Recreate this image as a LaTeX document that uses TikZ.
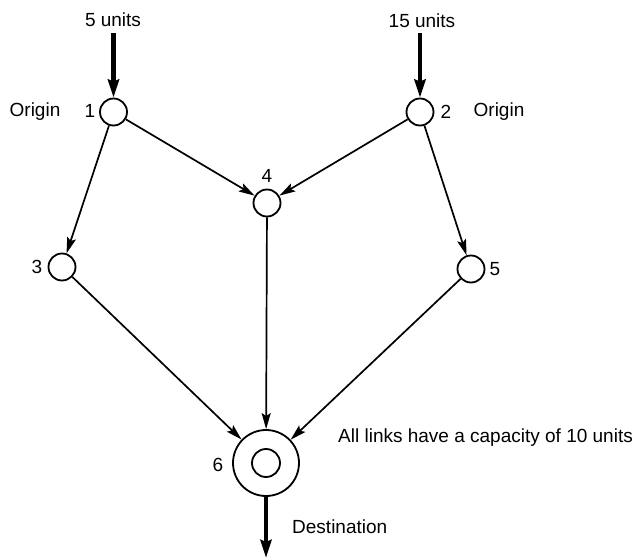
\documentclass[tikz,border=0pt]{standalone}
\usepackage{fontspec}
\setmainfont{Liberation Sans}
\usetikzlibrary{arrows.meta}
\begin{document}
\begin{tikzpicture}[x=1pt,y=-1pt,
  lbl/.style={inner sep=0pt,font=\fontsize{19}{21}\selectfont},
  vertex/.style={draw,circle,line width=1.8pt,minimum size=27pt,inner sep=0pt},
  link/.style={line width=1.7pt,-{Stealth[length=16pt,width=9pt,inset=3pt]}},
  feed/.style={line width=4.2pt,-{Stealth[length=18pt,width=11pt,inset=2pt]}}]
\useasboundingbox (0,0) rectangle (638,559);

% network nodes
\node[vertex] (n1) at (113.5,112) {};
\node[vertex] (n2) at (420,112) {};
\node[vertex] (n4) at (267,203) {};
\node[vertex] (n3) at (62,267) {};
\node[vertex] (n5) at (471,269) {};
\node[vertex,minimum size=66pt] (n6) at (266,463) {};
\node[vertex,minimum size=28pt] (n6in) at (266,463) {};

% node labels and notes
\node[lbl] (t5u) at (113,20) {5 units};
\node[lbl] (t15u) at (422,21) {15 units};
\node[lbl] (to1) at (35,112) {Origin};
\node[lbl] (t1) at (90,111) {1};
\node[lbl] (t2) at (446,112) {2};
\node[lbl] (to2) at (499,112) {Origin};
\node[lbl] (t4) at (267,176) {4};
\node[lbl] (t3) at (37,267) {3};
\node[lbl] (t5) at (495,269) {5};
\node[lbl] (t6) at (218,465) {6};
\node[lbl,anchor=west] (tcap) at (338,438) {All links have a capacity of 10 units};
\node[lbl,anchor=west] (tdest) at (292,527) {Destination};

% supply and demand
\coordinate (in1) at (113.5,33);
\coordinate (in2) at (420,33);
\coordinate (out) at (266,558);
\draw[feed] (in1) -- (n1);
\draw[feed] (in2) -- (n2);
\draw[feed] (n6) -- (out);

% links
\draw[link] (n1) -- (n4);
\draw[link] (n1) -- (n3);
\draw[link] (n2) -- (n4);
\draw[link] (n2) -- (n5);
\draw[link] (n3) -- (n6);
\draw[link] (n4) -- (n6);
\draw[link] (n5) -- (n6);
\end{tikzpicture}
\end{document}
